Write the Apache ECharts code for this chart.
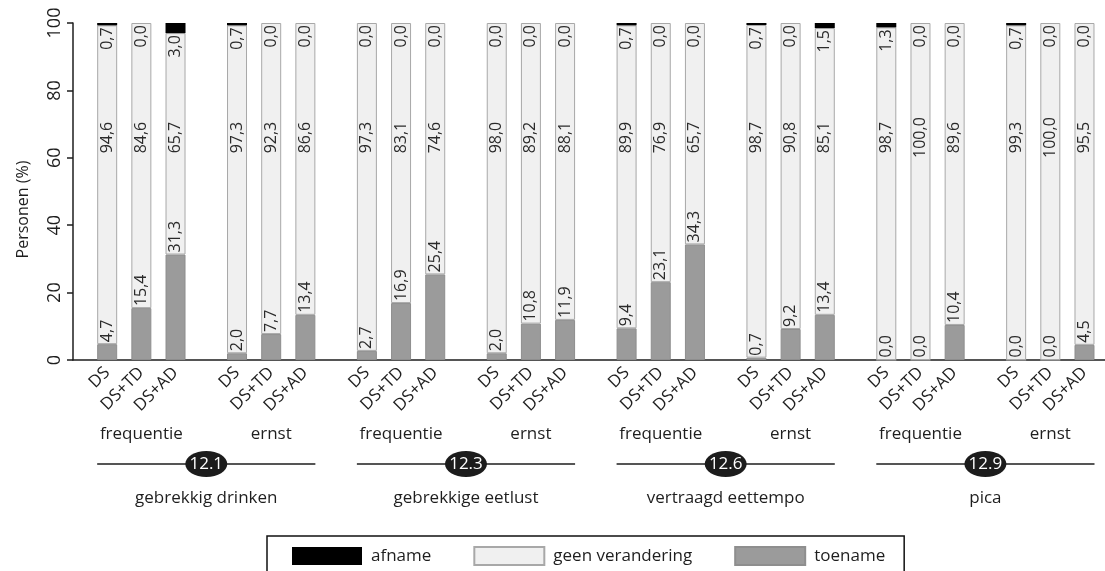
<!DOCTYPE html>
<html>
<head>
<meta charset="utf-8">
<script src="https://cdn.jsdelivr.net/npm/echarts@6/dist/echarts.min.js"></script>
<style>
  html, body { margin: 0; padding: 0; background: #fff; }
  #chart { width: 1105px; height: 571px; }
</style>
</head>
<body>
<div id="chart"></div>
<script>
var groupNames = ['gebrekkig drinken', 'gebrekkige eetlust', 'vertraagd eettempo', 'pica'];
var groupCodes = ['12.1', '12.3', '12.6', '12.9'];
var measures = ['frequentie', 'ernst'];
var conditions = ['DS', 'DS+TD', 'DS+AD'];

// one value per bar: group > measure > condition
var toename = [4.7, 15.4, 31.3, 2.0, 7.7, 13.4,
               2.7, 16.9, 25.4, 2.0, 10.8, 11.9,
               9.4, 23.1, 34.3, 0.7, 9.2, 13.4,
               0.0, 0.0, 10.4, 0.0, 0.0, 4.5];
var geenVerandering = [94.6, 84.6, 65.7, 97.3, 92.3, 86.6,
                       97.3, 83.1, 74.6, 98.0, 89.2, 88.1,
                       89.9, 76.9, 65.7, 98.7, 90.8, 85.1,
                       98.7, 100.0, 89.6, 99.3, 100.0, 95.5];
var afname = [0.7, 0.0, 3.0, 0.7, 0.0, 0.0,
              0.0, 0.0, 0.0, 0.0, 0.0, 0.0,
              0.7, 0.0, 0.0, 0.7, 0.0, 1.5,
              1.3, 0.0, 0.0, 0.7, 0.0, 0.0];
var yTicks = [0, 20, 40, 60, 80, 100];

var FONT = 'Open Sans';
var INK = '#1e1e1e';

// category axis made of small slots so bars in a block sit closer than blocks do
var SLOT_FIRST = 10, SLOT_BAR = 10, SLOT_BLOCK = 38, SLOT_COUNT = 303;
var slotOf = [], barOfSlot = {}, slots = [], slotLabel = [];
for (var b = 0; b < toename.length; b++) {
  var s = SLOT_FIRST + Math.floor(b / 3) * SLOT_BLOCK + (b % 3) * SLOT_BAR;
  slotOf.push(s);
  barOfSlot[s] = b;
}
for (var i = 0; i < SLOT_COUNT; i++) {
  slots.push('s' + i);
  slotLabel.push(barOfSlot[i] != null ? conditions[barOfSlot[i] % 3] : '');
}
function spread(values) {
  var out = [];
  for (var i = 0; i < SLOT_COUNT; i++) out.push('-');
  values.forEach(function (v, b) { out[slotOf[b]] = v; });
  return out;
}
function fmt(v) { return v.toFixed(1).replace('.', ','); }

var yMax = yTicks[yTicks.length - 1];
var fullBars = geenVerandering.map(function () { return yMax; });

var barLabel = {
  show: true, rotate: 90, verticalAlign: 'middle',
  fontFamily: FONT, fontSize: 16, color: '#2a2a2a'
};

var chart = echarts.init(document.getElementById('chart'));
var option = {
  animation: false,
  textStyle: { fontFamily: FONT },
  grid: { left: 73, right: 0, top: 23, bottom: 211, outerBoundsMode: 'none' },
  legend: {
    data: ['afname', 'geen verandering', 'toename'],
    left: 267, top: 536,
    padding: [10, 19, 10, 25],
    borderColor: '#111', borderWidth: 1.5,
    itemWidth: 70, itemHeight: 18, itemGap: 42,
    icon: 'rect',
    selectedMode: false,
    textStyle: { fontFamily: FONT, fontSize: 17, color: INK, padding: [0, 0, 0, 4] }
  },
  xAxis: {
    type: 'category',
    data: slots,
    boundaryGap: false,
    axisLine: { lineStyle: { color: INK, width: 1.5 } },
    axisTick: { show: false },
    axisLabel: {
      interval: 0, rotate: 45, margin: 10,
      fontFamily: FONT, fontSize: 17, color: INK,
      formatter: function (v, idx) { return slotLabel[idx]; }
    },
    splitLine: { show: false }
  },
  yAxis: {
    type: 'value',
    min: yTicks[0], max: yMax, interval: yTicks[1] - yTicks[0],
    name: 'Personen (%)', nameLocation: 'middle', nameGap: 42,
    nameTextStyle: { fontFamily: FONT, fontSize: 16, color: INK, padding: [0, 36, 0, 0] },
    axisLine: { show: true, lineStyle: { color: INK, width: 1.5 } },
    axisTick: { show: true, length: 6, lineStyle: { color: INK, width: 1.5 } },
    axisLabel: { rotate: 90, margin: 9, fontFamily: FONT, fontSize: 18, color: INK },
    splitLine: { show: false }
  },
  series: [
    {
      name: 'toename', type: 'bar', stack: 'p', barWidth: 20, barGap: '-100%',
      data: spread(toename),
      itemStyle: { color: '#9b9b9b', borderColor: '#8e8e8e', borderWidth: 1 },
      label: Object.assign({}, barLabel, {
        position: 'top', distance: 2, align: 'left',
        formatter: function (p) { return fmt(p.value); }
      })
    },
    {
      name: 'geen verandering', type: 'bar', stack: 'p', barWidth: 20, barGap: '-100%',
      data: spread(geenVerandering),
      itemStyle: { color: '#f0f0f0', borderColor: '#a8a8a8', borderWidth: 1 }
    },
    {
      name: 'afname', type: 'bar', stack: 'p', barWidth: 20, barGap: '-100%',
      data: spread(afname),
      itemStyle: { color: '#000' },
      label: Object.assign({}, barLabel, {
        position: 'bottom', distance: 2, align: 'right',
        formatter: function (p) { return fmt(p.value); }
      })
    },
    {
      // invisible full bar that carries the "geen verandering" label at a fixed height
      name: 'geen-label', type: 'bar', barWidth: 20, barGap: '-100%', silent: true, z: 5,
      data: spread(fullBars),
      itemStyle: { color: 'rgba(0,0,0,0)' },
      label: Object.assign({}, barLabel, {
        position: ['50%', '34%'], align: 'center',
        formatter: function (p) { return fmt(geenVerandering[barOfSlot[p.dataIndex]]); }
      })
    }
  ]
};
chart.setOption(option);

// group annotations under the axis, placed from the axis scale
function px(slot) { return chart.convertToPixel({ xAxisIndex: 0 }, slot); }
var graphics = [];
groupNames.forEach(function (name, g) {
  measures.forEach(function (m, k) {
    graphics.push({
      type: 'text', z: 10,
      style: { text: m, x: px(slotOf[g * 6 + k * 3 + 1]), y: 434, align: 'center', verticalAlign: 'middle',
               fontFamily: FONT, fontSize: 17, fill: INK }
    });
  });
  var x0 = px(slotOf[g * 6]) - 10, x1 = px(slotOf[g * 6 + 5]) + 10, mid = (x0 + x1) / 2;
  graphics.push({
    type: 'line', z: 10,
    shape: { x1: x0, y1: 464, x2: x1, y2: 464 },
    style: { stroke: '#555', lineWidth: 2 }
  });
  graphics.push({
    type: 'ellipse', z: 11,
    shape: { cx: mid, cy: 464, rx: 21, ry: 13 },
    style: { fill: '#1c1c1c' }
  });
  graphics.push({
    type: 'text', z: 12,
    style: { text: groupCodes[g], x: mid, y: 464, align: 'center', verticalAlign: 'middle',
             fontFamily: FONT, fontSize: 17, fill: '#fff' }
  });
  graphics.push({
    type: 'text', z: 10,
    style: { text: name, x: mid, y: 498, align: 'center', verticalAlign: 'middle',
             fontFamily: FONT, fontSize: 17, fill: INK }
  });
});
chart.setOption({ graphic: graphics });
</script>
</body>
</html>
